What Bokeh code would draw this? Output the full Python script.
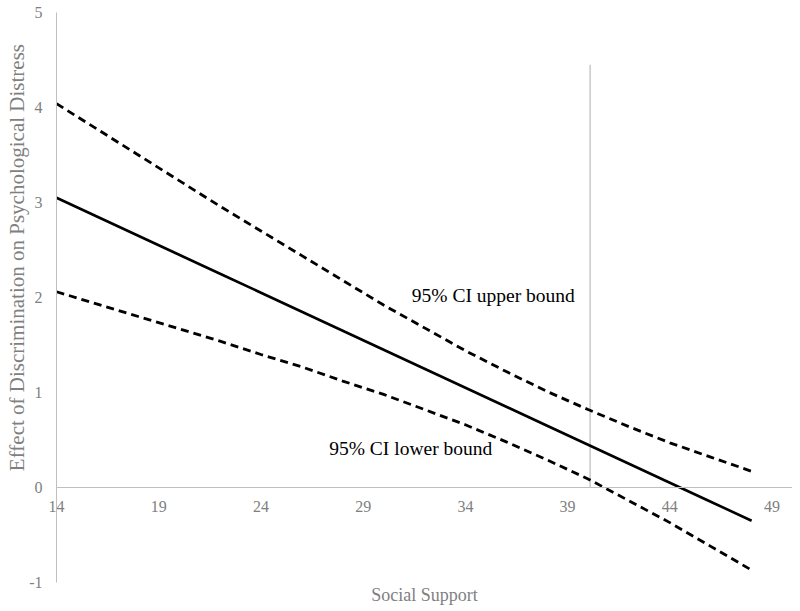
import math
from bokeh.plotting import figure
from bokeh.models import Range1d, FixedTicker, Label
from bokeh.embed import file_html
from bokeh.resources import INLINE

# ---- data ----
social_support = [14, 16, 18, 20, 22, 24, 26, 28, 30, 32, 34, 36, 38, 40, 42, 44, 46, 48]
effect = [3.05, 2.85, 2.65, 2.45, 2.25, 2.05, 1.85, 1.65, 1.45, 1.25, 1.05, 0.85, 0.65, 0.45, 0.25, 0.05, -0.15, -0.35]
ci_upper = [4.04, 3.77, 3.50, 3.23, 2.96, 2.70, 2.44, 2.18, 1.92, 1.68, 1.44, 1.22, 1.01, 0.82, 0.64, 0.47, 0.32, 0.17]
ci_lower = [2.06, 1.93, 1.80, 1.67, 1.54, 1.40, 1.27, 1.12, 0.98, 0.82, 0.66, 0.48, 0.29, 0.09, -0.14, -0.37, -0.62, -0.87]
x_ticks = [14, 19, 24, 29, 34, 39, 44, 49]
y_ticks = [-1, 0, 1, 2, 3, 4, 5]
jn_x = 40.1
jn_top = 4.45

SERIF = "Liberation Serif"
AXIS_GREY = "#bfbfbf"
TEXT_GREY = "#7f7f7f"

W, H = 792, 608
# frame covers the whole canvas; axes are drawn at fixed data locations
x_start, x_end = 11.261, 50.0
y_start, y_end = -1.274, 5.126

p = figure(
    width=W, height=H, frame_width=W, frame_height=H,
    x_range=Range1d(x_start, x_end), y_range=Range1d(y_start, y_end),
    output_backend="svg", toolbar_location=None,
    min_border_left=0, min_border_top=0, min_border_right=0, min_border_bottom=0,
)
p.outline_line_color = None
p.xgrid.visible = False
p.ygrid.visible = False

p.xaxis.fixed_location = 0
p.yaxis.fixed_location = 14
p.xaxis.bounds = (14, 50)
p.yaxis.bounds = (-1, 5)
p.xaxis.ticker = FixedTicker(ticks=x_ticks)
p.yaxis.ticker = FixedTicker(ticks=y_ticks)
p.yaxis.major_label_overrides = {t: str(t) for t in y_ticks}
for ax in (p.xaxis, p.yaxis):
    ax.axis_line_color = AXIS_GREY
    ax.axis_line_width = 1
    ax.major_tick_line_color = None
    ax.minor_tick_line_color = None
    ax.major_tick_out = 0
    ax.major_tick_in = 0
    ax.minor_tick_out = 0
    ax.major_label_text_font = SERIF
    ax.major_label_text_font_size = "16px"
    ax.major_label_text_color = TEXT_GREY
p.xaxis.major_label_standoff = 14
p.yaxis.major_label_standoff = 14

# vertical reference line
p.segment(x0=[jn_x], y0=[0], x1=[jn_x], y1=[jn_top], line_color=AXIS_GREY, line_width=1.3)

# lines
p.line(social_support, ci_upper, line_color="black", line_width=2.8, line_dash="8 5")
p.line(social_support, ci_lower, line_color="black", line_width=2.8, line_dash="8 5")
p.line(social_support, effect, line_color="black", line_width=2.6)

# annotations
p.add_layout(Label(x=31.38, y=2.02, text="95% CI upper bound", text_font=SERIF,
                   text_font_size="19.5px", text_color="black",
                   text_align="left", text_baseline="middle"))
p.add_layout(Label(x=27.34, y=0.41, text="95% CI lower bound", text_font=SERIF,
                   text_font_size="19.5px", text_color="black",
                   text_align="left", text_baseline="middle"))

# axis titles
p.add_layout(Label(x=12.09, y=2.42, text="Effect of Discrimination on Psychological Distress",
                   angle=math.pi / 2, text_font=SERIF, text_font_size="21px",
                   text_color=TEXT_GREY, text_align="center", text_baseline="middle"))
p.add_layout(Label(x=32, y=-1.137, text="Social Support", text_font=SERIF,
                   text_font_size="18px", text_color=TEXT_GREY,
                   text_align="center", text_baseline="middle"))

open("out.html", "w").write(file_html(p, INLINE))
